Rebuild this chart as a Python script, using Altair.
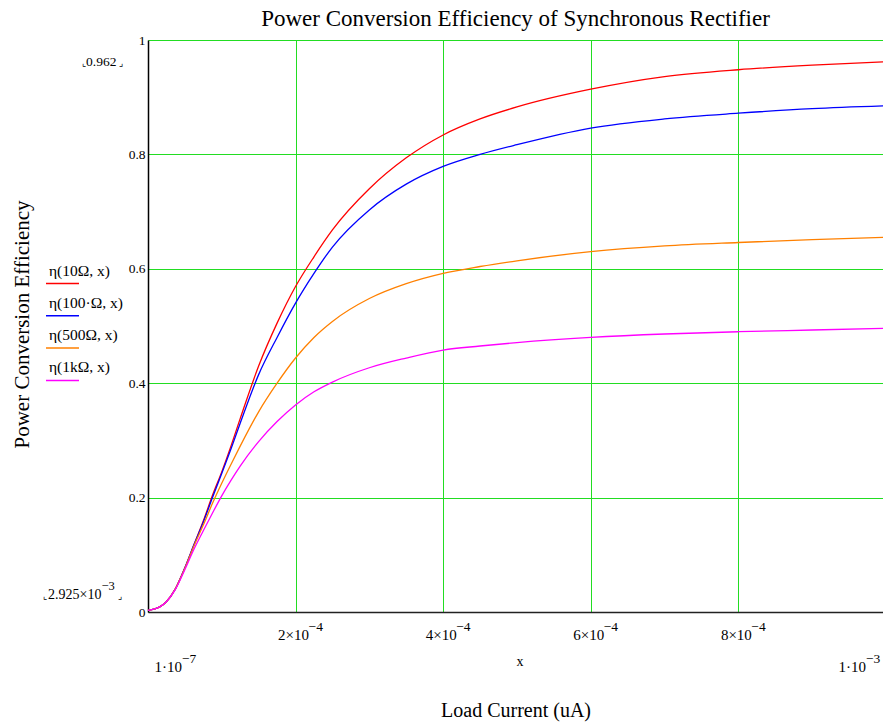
import altair as alt
import pandas as pd

# Load current sweep (A) and efficiency of each load resistance
load_current = [1e-7, 1.6e-5, 2.5e-5, 3.7e-5, 5e-5, 6.25e-5, 7.5e-5, 8.75e-5, 1e-4, 1.125e-4,
                1.25e-4, 1.5e-4, 1.75e-4, 2e-4, 2.25e-4, 2.5e-4, 3e-4, 3.5e-4, 4e-4, 4.5e-4,
                5e-4, 6e-4, 7e-4, 8e-4, 9e-4, 1e-3]
eta_10 = [0.003, 0.009, 0.018, 0.040, 0.077, 0.118, 0.159, 0.204, 0.245, 0.29,
          0.338, 0.43, 0.505, 0.569, 0.621, 0.668, 0.740, 0.794, 0.834, 0.862,
          0.883, 0.914, 0.936, 0.948, 0.956, 0.962]
eta_100 = [0.003, 0.009, 0.018, 0.040, 0.077, 0.118, 0.157, 0.2, 0.242, 0.285,
           0.330, 0.415, 0.48, 0.540, 0.592, 0.638, 0.703, 0.748, 0.779, 0.800,
           0.817, 0.846, 0.862, 0.872, 0.880, 0.885]
eta_500 = [0.003, 0.009, 0.018, 0.040, 0.076, 0.116, 0.152, 0.19, 0.225, 0.258,
           0.29, 0.350, 0.400, 0.444, 0.480, 0.508, 0.548, 0.574, 0.592, 0.604,
           0.614, 0.630, 0.640, 0.646, 0.651, 0.655]
eta_1k = [0.003, 0.009, 0.018, 0.039, 0.074, 0.11, 0.142, 0.173, 0.203, 0.23,
          0.255, 0.298, 0.333, 0.362, 0.385, 0.402, 0.427, 0.444, 0.458, 0.465,
          0.471, 0.480, 0.486, 0.490, 0.493, 0.496]

series_names = ["η(10Ω, x)", "η(100·Ω, x)", "η(500Ω, x)", "η(1kΩ, x)"]
series_values = [eta_10, eta_100, eta_500, eta_1k]
series_colors = ["#ff0000", "#0000ff", "#ff8000", "#ff00ff"]

# x tick labels in Mathcad style: mantissa "k×10" with a raised exponent
x_tick_values = [2e-4, 4e-4, 6e-4, 8e-4]
x_tick_mantissas = ["2×10", "4×10", "6×10", "8×10"]
x_tick_exponents = ["−4", "−4", "−4", "−4"]
y_tick_values = [0, 0.2, 0.4, 0.6, 0.8, 1]

FONT = "Liberation Serif"
W, H = 735, 572
GRID = "#22dd22"

rows = []
for name, vals in zip(series_names, series_values):
    for xv, yv in zip(load_current, vals):
        rows.append({"x": xv, "eta": yv, "series": name})
df = pd.DataFrame(rows)

x_scale = alt.Scale(domain=[1e-7, 9.96e-4], nice=False, zero=False)

x_enc = alt.X(
    "x:Q",
    scale=x_scale,
    axis=alt.Axis(
        values=x_tick_values, labels=False, tickSize=0,
        domainColor="#222222", domainWidth=1.5,
        grid=True, gridColor=GRID, gridWidth=1,
        title="Load Current (uA)", titleFont=FONT, titleFontSize=20,
        titleFontWeight="normal", titleColor="black", titleY=98, titleBaseline="middle",
    ),
)
y_enc = alt.Y(
    "eta:Q",
    scale=alt.Scale(domain=[0, 1], nice=False),
    axis=alt.Axis(
        values=y_tick_values, format="~g", tickSize=0, labelPadding=3,
        labelFont=FONT, labelFontSize=13.5, labelColor="black",
        domainColor="black", domainWidth=1.5,
        grid=True, gridColor=GRID, gridWidth=1,
        title="Power Conversion Efficiency", titleFont=FONT, titleFontSize=21,
        titleFontWeight="normal", titleColor="black",
        titleX=-126, titleY=284, titleAngle=-90, titleBaseline="middle",
    ),
)

lines = alt.Chart(df).mark_line(strokeWidth=1.3, clip=True, interpolate="monotone").encode(
    x=x_enc,
    y=y_enc,
    color=alt.Color("series:N", scale=alt.Scale(domain=series_names, range=series_colors), legend=None),
)

# Tick labels placed through the x scale
ticks_df = pd.DataFrame({"x": x_tick_values, "m": x_tick_mantissas, "e": x_tick_exponents})
tick_base = alt.Chart(ticks_df).mark_text(
    font=FONT, fontSize=15, align="right", baseline="alphabetic", dx=13.5, color="black"
).encode(x=alt.X("x:Q", scale=x_scale), y=alt.value(600), text="m:N")
tick_exp = alt.Chart(ticks_df).mark_text(
    font=FONT, fontSize=13.5, align="left", baseline="alphabetic", dx=13, color="black"
).encode(x=alt.X("x:Q", scale=x_scale), y=alt.value(591), text="e:N")

layers = [lines, tick_base, tick_exp]

# Legend: name above a short coloured stroke, stacked on the left
for i, (name, col) in enumerate(zip(series_names, series_colors)):
    base = alt.Chart(pd.DataFrame({"label": [name]}))
    layers.append(base.mark_text(font=FONT, fontSize=15.5, align="left", baseline="middle", color="black").encode(
        x=alt.value(-99), y=alt.value(230.5 + 32.3 * i), text="label:N"))
    layers.append(base.mark_rule(color=col, strokeWidth=1.5).encode(
        x=alt.value(-102), x2=alt.value(-69), y=alt.value(243.5 + 32.3 * i)))

# Range markers, axis end values and the variable name
# (text, x, y baseline, font size, align)
notes = [
    ("⌞", -62.5, 26, 9, "right"),
    ("0.962", -62, 26, 13.5, "left"),
    ("⌟", -29, 26, 9, "left"),
    ("⌞", -101, 559, 9, "right"),
    ("2.925×10", -46.5, 559, 14, "right"),
    ("−3", -46.5, 550, 12.5, "left"),
    ("⌟", -30, 559, 9, "left"),
    ("1·10", 34, 632, 15, "right"),
    ("−7", 34, 623, 13.5, "left"),
    ("1·10", 718, 632, 15, "right"),
    ("−3", 718, 623, 13.5, "left"),
    ("x", 372, 626, 14, "center"),
]
for txt, nx, ny, fs, al in notes:
    layers.append(alt.Chart(pd.DataFrame({"t": [txt]})).mark_text(
        font=FONT, fontSize=fs, align=al, baseline="alphabetic", color="black"
    ).encode(x=alt.value(nx), y=alt.value(ny), text="t:N"))

chart = alt.layer(*layers).properties(
    width=W, height=H,
    title=alt.TitleParams("Power Conversion Efficiency of Synchronous Rectifier",
                          font=FONT, fontSize=23, fontWeight="normal", color="black",
                          anchor="middle", offset=2),
    padding={"left": 148, "top": 40, "right": 0, "bottom": 111},
    autosize=alt.AutoSizeParams(type="none"),
).configure_view(stroke="black", strokeWidth=1.5).configure(background="white")

chart.save("out.html", embed_options={"renderer": "svg", "actions": False})
